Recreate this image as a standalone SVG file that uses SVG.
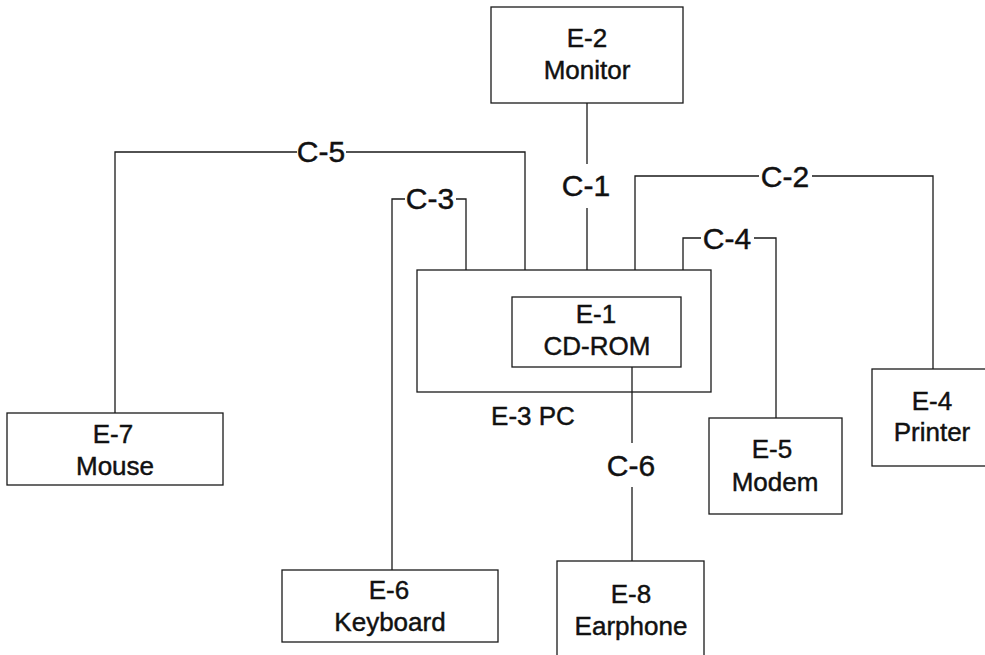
<svg xmlns="http://www.w3.org/2000/svg" width="985" height="655" viewBox="0 0 985 655">
<style>
.box{fill:none;stroke:#1a1a1a;stroke-width:1.3}
.ln{fill:none;stroke:#1a1a1a;stroke-width:1.3}
.t{font-family:"Liberation Sans",Arial,sans-serif;font-size:26px;fill:#111;stroke:#111;stroke-width:0.45;text-anchor:middle}
.c{font-family:"Liberation Sans",Arial,sans-serif;font-size:30px;fill:#111;stroke:#111;stroke-width:0.45;text-anchor:middle}
</style>
<rect width="985" height="655" fill="#fff"/>
<g id="connectors">
  <g id="C-1">
    <path class="ln" d="M587,103 V164 M587,208 V270"/>
    <text class="c" x="586" y="196">C-1</text>
  </g>
  <g id="C-5">
    <path class="ln" d="M115,413 V152 H297 M346,152 H525 V270"/>
    <text class="c" x="321" y="162">C-5</text>
  </g>
  <g id="C-3">
    <path class="ln" d="M392,570 V199 H405 M456,199 H466 V270"/>
    <text class="c" x="430" y="209">C-3</text>
  </g>
  <g id="C-2">
    <path class="ln" d="M635,270 V176 H759 M812,176 H933 V369"/>
    <text class="c" x="785" y="187">C-2</text>
  </g>
  <g id="C-4">
    <path class="ln" d="M683,270 V238 H701 M754,238 H776 V418"/>
    <text class="c" x="727" y="249">C-4</text>
  </g>
  <g id="C-6">
    <path class="ln" d="M632,367 V443 M632,487 V561"/>
    <text class="c" x="631" y="476">C-6</text>
  </g>
</g>
<g id="E-2">
  <rect class="box" x="491" y="7" width="192" height="96"/>
  <text class="t" x="587" y="47">E-2</text>
  <text class="t" x="587" y="79">Monitor</text>
</g>
<g id="E-3">
  <rect class="box" x="417" y="270" width="294" height="122"/>
  <text class="t" x="533" y="425">E-3 PC</text>
</g>
<g id="E-1">
  <rect class="box" x="512" y="297" width="169" height="70"/>
  <text class="t" x="596" y="323">E-1</text>
  <text class="t" x="597" y="355">CD-ROM</text>
</g>
<g id="E-7">
  <rect class="box" x="7" y="413" width="216" height="72"/>
  <text class="t" x="113" y="443">E-7</text>
  <text class="t" x="115" y="475">Mouse</text>
</g>
<g id="E-5">
  <rect class="box" x="709" y="418" width="133" height="96"/>
  <text class="t" x="772" y="458">E-5</text>
  <text class="t" x="775" y="491">Modem</text>
</g>
<g id="E-4">
  <rect class="box" x="872" y="369" width="122" height="97"/>
  <text class="t" x="932" y="410">E-4</text>
  <text class="t" x="932" y="441">Printer</text>
</g>
<g id="E-6">
  <rect class="box" x="282" y="570" width="216" height="72"/>
  <text class="t" x="389" y="599">E-6</text>
  <text class="t" x="390" y="631">Keyboard</text>
</g>
<g id="E-8">
  <rect class="box" x="557" y="561" width="147" height="110"/>
  <text class="t" x="631" y="603">E-8</text>
  <text class="t" x="631" y="635">Earphone</text>
</g>
</svg>
